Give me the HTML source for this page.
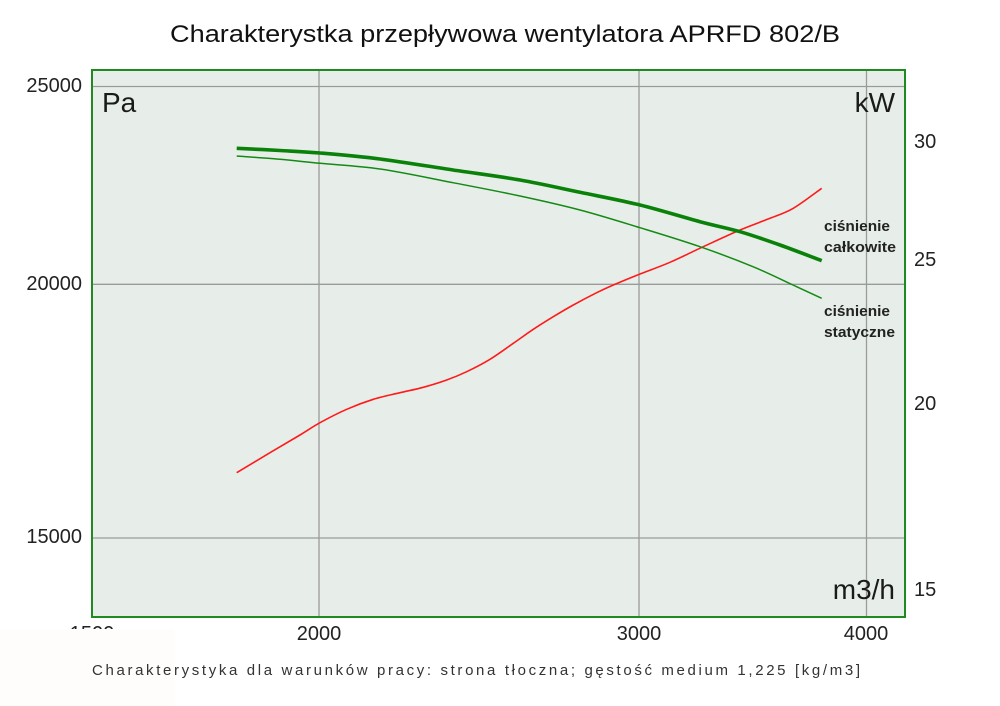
<!DOCTYPE html>
<html><head><meta charset="utf-8"><style>
html,body{margin:0;padding:0;background:#fff;}
svg{display:block;}
text{font-family:"Liberation Sans",sans-serif;}
</style></head><body>
<svg id="chart" width="1000" height="706" viewBox="0 0 1000 706" xmlns="http://www.w3.org/2000/svg">
<rect x="0" y="0" width="1000" height="706" fill="#ffffff"/>
<text x="505" y="42" font-size="24" fill="#111" text-anchor="middle" textLength="670" lengthAdjust="spacingAndGlyphs">Charakterystka przepływowa wentylatora APRFD 802/B</text>
<rect x="92" y="70" width="813" height="547" fill="#e7eee9"/>
<g stroke="#9a9a9a" stroke-width="1.3" fill="none">
<line x1="92" y1="86.5" x2="905" y2="86.5"/>
<line x1="92" y1="284.3" x2="905" y2="284.3"/>
<line x1="92" y1="538" x2="905" y2="538"/>
<line x1="319" y1="70" x2="319" y2="617"/>
<line x1="639" y1="70" x2="639" y2="617"/>
<line x1="866.5" y1="70" x2="866.5" y2="617"/>
</g>
<rect x="92" y="70" width="813" height="547" fill="none" stroke="#1f8a1f" stroke-width="2"/>
<g fill="none" stroke-linejoin="round" stroke-linecap="butt">
<polyline class="sm" stroke="#ff1a1a" stroke-width="1.6" points="236.7,472.7 270,452.7 300,435 320,422.7 346.7,409.3 373.3,399.3 400,392.7 423.3,387.3 446.7,380 466.7,371.7 490,359.3 513.3,343.3 533.3,329.3 553.3,316.7 573.3,305 596.7,292.7 613.3,285 640,274 670,262.3 703.3,246.7 740,230 770,218.3 793.3,208.3 821.7,188.3"/>
<polyline class="sm" stroke="#138a13" stroke-width="1.5" points="236.7,156 280,159.3 320,163.3 380,169 453,182.7 520,196 580,210 640,227.7 700,246.7 753,266.7 793,285 821.7,298.3"/>
<polyline class="sm" stroke="#0a820a" stroke-width="3.6" points="236.7,148.3 280,150.5 320,153 380,159 453,170 520,180 580,192.3 640,205 700,221.7 740,231.7 780,245 821.7,260.7"/>
</g>
<g fill="#222" font-size="15" font-weight="bold">
<text x="824" y="231" textLength="66" lengthAdjust="spacingAndGlyphs">ciśnienie</text>
<text x="824" y="252" textLength="72" lengthAdjust="spacingAndGlyphs">całkowite</text>
<text x="824" y="316" textLength="66" lengthAdjust="spacingAndGlyphs">ciśnienie</text>
<text x="824" y="337" textLength="71" lengthAdjust="spacingAndGlyphs">statyczne</text>
</g>
<g fill="#1a1a1a" font-size="28">
<text x="102" y="112">Pa</text>
<text x="895" y="112" text-anchor="end">kW</text>
<text x="895" y="599" text-anchor="end">m3/h</text>
</g>
<g fill="#222" font-size="20">
<text x="82" y="92" text-anchor="end">25000</text>
<text x="82" y="290" text-anchor="end">20000</text>
<text x="82" y="543" text-anchor="end">15000</text>
<text x="914" y="148">30</text>
<text x="914" y="266">25</text>
<text x="914" y="410">20</text>
<text x="914" y="596">15</text>
<text x="92" y="640" text-anchor="middle">1500</text>
<text x="319" y="640" text-anchor="middle">2000</text>
<text x="639" y="640" text-anchor="middle">3000</text>
<text x="866" y="640" text-anchor="middle">4000</text>
</g>
<rect x="0" y="629" width="175" height="77" fill="#fefdfc"/>
<text x="92" y="675" font-size="15" fill="#333" textLength="768" lengthAdjust="spacing">Charakterystyka dla warunków pracy: strona tłoczna; gęstość medium 1,225 [kg/m3]</text>
</svg>
<script>
(function(){
var NS="http://www.w3.org/2000/svg";
var pls=document.querySelectorAll("polyline.sm");
for(var k=0;k<pls.length;k++){
var pl=pls[k];
var pts=pl.getAttribute("points").trim().split(/\s+/).map(function(s){var a=s.split(",");return [parseFloat(a[0]),parseFloat(a[1])];});
var d="M"+pts[0][0]+","+pts[0][1];
for(var i=0;i<pts.length-1;i++){
var p0=pts[i>0?i-1:i],p1=pts[i],p2=pts[i+1],p3=pts[i+2<pts.length?i+2:i+1];
var c1x=p1[0]+(p2[0]-p0[0])/6,c1y=p1[1]+(p2[1]-p0[1])/6;
var c2x=p2[0]-(p3[0]-p1[0])/6,c2y=p2[1]-(p3[1]-p1[1])/6;
d+=" C"+c1x.toFixed(2)+","+c1y.toFixed(2)+" "+c2x.toFixed(2)+","+c2y.toFixed(2)+" "+p2[0]+","+p2[1];
}
var p=document.createElementNS(NS,"path");
p.setAttribute("d",d);
p.setAttribute("stroke",pl.getAttribute("stroke"));
p.setAttribute("stroke-width",pl.getAttribute("stroke-width"));
p.setAttribute("fill","none");
p.setAttribute("stroke-linejoin","round");
pl.parentNode.replaceChild(p,pl);
}
})();
</script>
</body></html>
